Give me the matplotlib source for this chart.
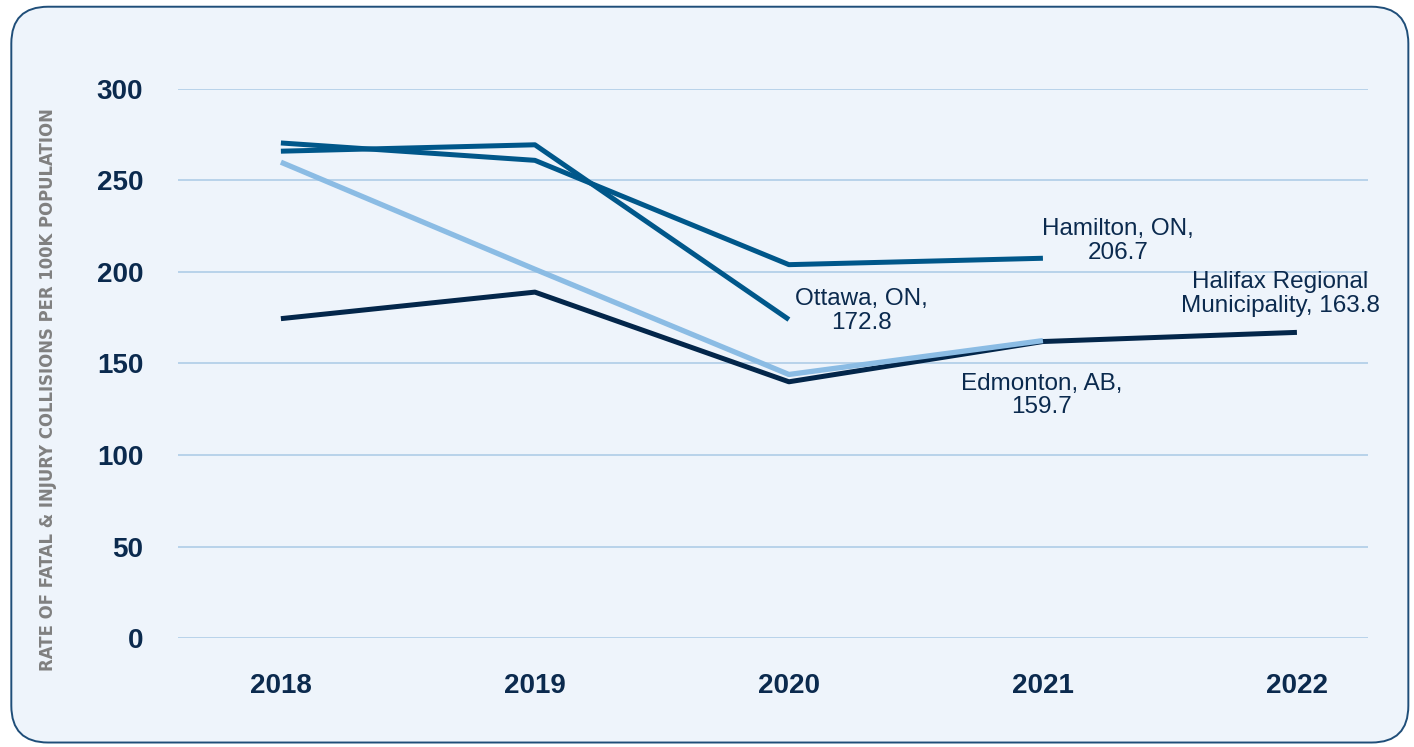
import matplotlib.pyplot as plt
from matplotlib.patches import FancyBboxPatch

# Data
years = ['2018', '2019', '2020', '2021', '2022']
hamilton = [270.5, 261, 204, 207.5]
ottawa = [266, 269.5, 174]
halifax = [174.5, 189, 140, 162, 167]
edmonton = [260, 201.5, 144, 162.5]
y_ticks = [0, 50, 100, 150, 200, 250, 300]

plt.rcParams['font.family'] = ['Liberation Sans', 'DejaVu Sans']

navy = '#0b2a4e'
mid_blue = '#00578a'
light_blue = '#8bbce4'
bg = '#eef4fb'

fig = plt.figure(figsize=(14.14, 7.47), dpi=100)
fig.patch.set_facecolor('white')

# Rounded panel behind the chart
panel = FancyBboxPatch((0.008, 0.006), 0.988, 0.985,
                       boxstyle='round,pad=0,rounding_size=0.026',
                       transform=fig.transFigure, facecolor=bg,
                       edgecolor='#1f4e79', linewidth=1.4,
                       mutation_aspect=1414 / 747, zorder=-5)
fig.patches.append(panel)

ax = fig.add_axes([0.1259, 0.1459, 0.8416, 0.735])
ax.set_facecolor('none')
ax.set_zorder(2)

x = list(range(len(years)))
ax.plot(x[:len(hamilton)], hamilton, color=mid_blue, lw=3.6, solid_capstyle='butt')
ax.plot(x[:len(ottawa)], ottawa, color=mid_blue, lw=3.6, solid_capstyle='butt')
ax.plot(x[:len(halifax)], halifax, color='#03264a', lw=3.6, solid_capstyle='butt')
ax.plot(x[:len(edmonton)], edmonton, color=light_blue, lw=3.8, solid_capstyle='butt')

ax.set_xlim(-0.405, 4.28)
ax.set_ylim(0, 300)
ax.set_yticks(y_ticks)
ax.set_xticks(x)
ax.set_xticklabels(years)
ax.grid(axis='y', color='#a9c9e6', lw=1.1)
ax.set_axisbelow(True)
for s in ax.spines.values():
    s.set_visible(False)
ax.tick_params(length=0)
ax.tick_params(axis='y', pad=25)
ax.tick_params(axis='x', pad=25)
for lab in ax.get_xticklabels() + ax.get_yticklabels():
    lab.set_fontsize(20)
    lab.set_fontweight('bold')
    lab.set_color(navy)

ax.set_ylabel('RATE OF FATAL & INJURY COLLISIONS PER 100K POPULATION',
              fontsize=11.9, fontweight='bold', color='#808080',
              family='DejaVu Sans')
ax.yaxis.set_label_coords(-0.1017, 0.452)

# Series labels
lab_kw = dict(fontsize=17.5, color=navy, ha='center', va='center', linespacing=1.1)
ax.text(3.295, 217, 'Hamilton, ON,\n206.7', **lab_kw)
ax.text(2.287, 178.5, 'Ottawa, ON,\n172.8', **lab_kw)
ax.text(2.996, 132.5, 'Edmonton, AB,\n159.7', **lab_kw)
ax.text(3.935, 188, 'Halifax Regional\nMunicipality, 163.8', **lab_kw)

fig.savefig('out.png', dpi=100, facecolor=fig.get_facecolor())
